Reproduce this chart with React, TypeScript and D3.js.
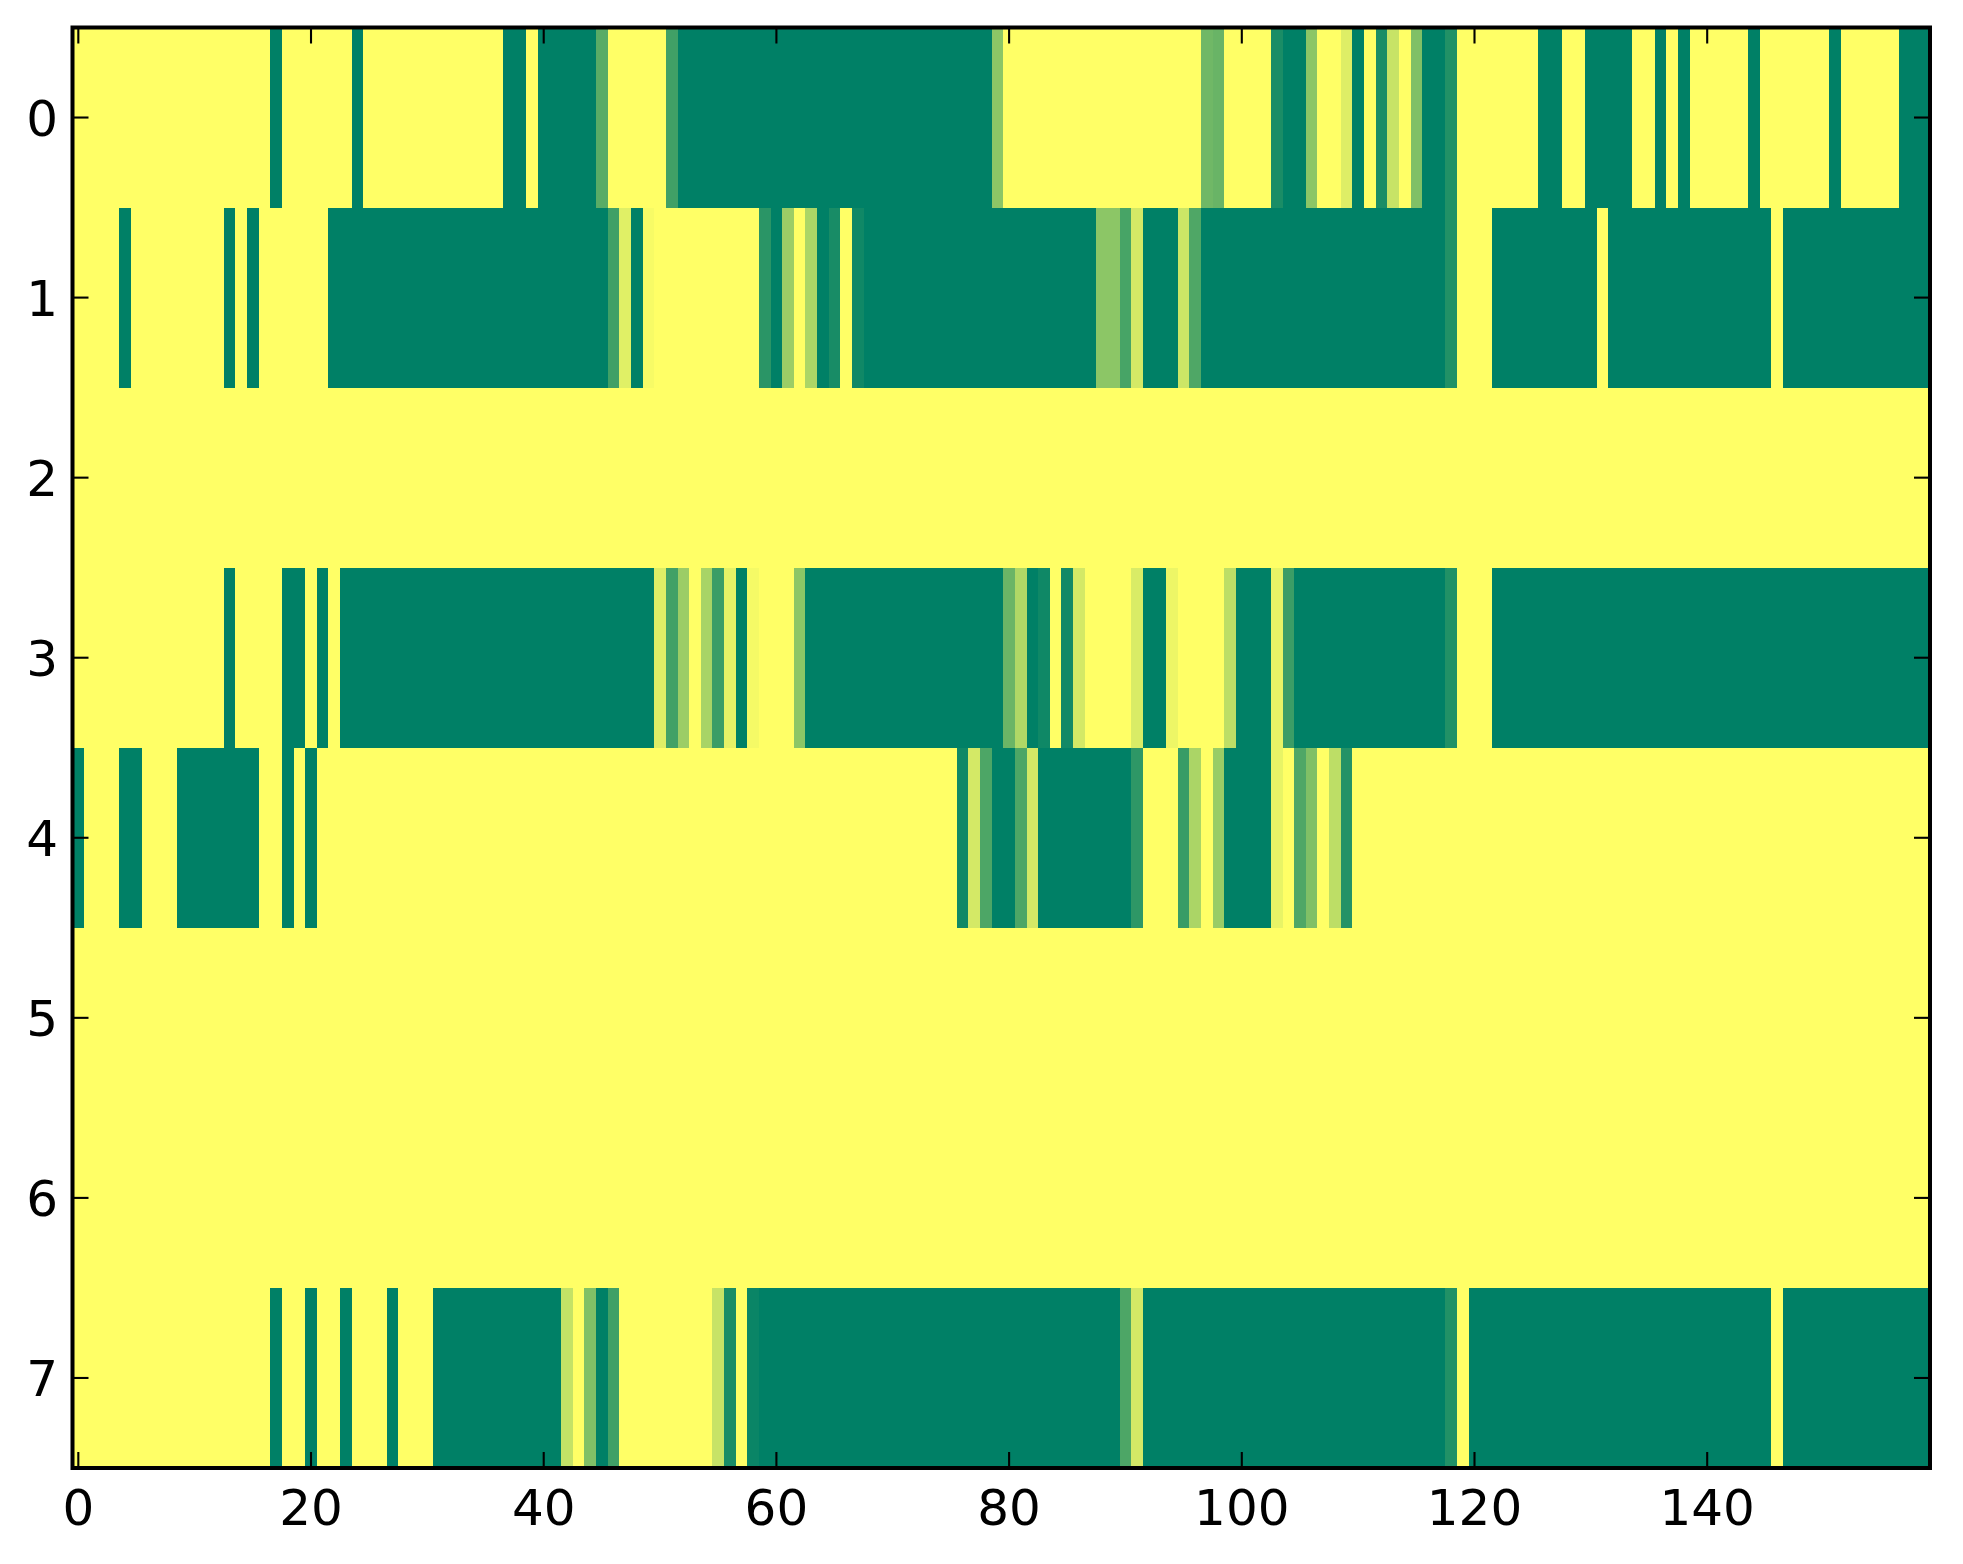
import * as d3 from 'd3'

// heatmap values, one array per row (0 = dark green, 1 = yellow)
const row0 = [
  1, 1, 1, 1, 1, 1, 1, 1, 1, 1, 1, 1, 1, 1, 1, 1, 1, 0, 1, 1,
  1, 1, 1, 1, 0, 1, 1, 1, 1, 1, 1, 1, 1, 1, 1, 1, 1, 0, 0, 1,
  0, 0, 0, 0, 0, .35, 1, 1, 1, 1, 1, .25, 0, 0, 0, 0, 0, 0, 0, 0,
  0, 0, 0, 0, 0, 0, 0, 0, 0, 0, 0, 0, 0, 0, 0, 0, 0, 0, 0, .55,
  1, 1, 1, 1, 1, 1, 1, 1, 1, 1, 1, 1, 1, 1, 1, 1, 1, .44, .41, 1,
  1, 1, 1, .1, 0, 0, .55, 1, 1, .87, 0, 1, .1, .78, 1, .5, 0, 0, .13, 1,
  1, 1, 1, 1, 1, 1, 0, 0, 1, 1, 0, 0, 0, 0, 1, 1, 0, 1, 0, 1,
  1, 1, 1, 1, 0, 1, 1, 1, 1, 1, 1, 0, 1, 1, 1, 1, 1, 0, 0, 0,
]
const row1 = [
  1, 1, 1, 1, 0, 1, 1, 1, 1, 1, 1, 1, 1, 0, 1, 0, 1, 1, 1, 1,
  1, 1, 0, 0, 0, 0, 0, 0, 0, 0, 0, 0, 0, 0, 0, 0, 0, 0, 0, 0,
  0, 0, 0, 0, 0, 0, .25, .88, 0, .97, 1, 1, 1, 1, 1, 1, 1, 1, 1, .165,
  0, .61, 1, .675, 0, .094, 1, .063, 0, 0, 0, 0, 0, 0, 0, 0, 0, 0, 0, 0,
  0, 0, 0, 0, 0, 0, 0, 0, .55, .55, .28, .83, 0, 0, 0, .8, .31, 0, 0, 0,
  0, 0, 0, 0, 0, 0, 0, 0, 0, 0, 0, 0, 0, 0, 0, 0, 0, 0, .13, 1,
  1, 1, 0, 0, 0, 0, 0, 0, 0, 0, 0, 1, 0, 0, 0, 0, 0, 0, 0, 0,
  0, 0, 0, 0, 0, 0, 1, 0, 0, 0, 0, 0, 0, 0, 0, 0, 0, 0, 0, 0,
]
const row2 = [
  1, 1, 1, 1, 1, 1, 1, 1, 1, 1, 1, 1, 1, 1, 1, 1, 1, 1, 1, 1,
  1, 1, 1, 1, 1, 1, 1, 1, 1, 1, 1, 1, 1, 1, 1, 1, 1, 1, 1, 1,
  1, 1, 1, 1, 1, 1, 1, 1, 1, 1, 1, 1, 1, 1, 1, 1, 1, 1, 1, 1,
  1, 1, 1, 1, 1, 1, 1, 1, 1, 1, 1, 1, 1, 1, 1, 1, 1, 1, 1, 1,
  1, 1, 1, 1, 1, 1, 1, 1, 1, 1, 1, 1, 1, 1, 1, 1, 1, 1, 1, 1,
  1, 1, 1, 1, 1, 1, 1, 1, 1, 1, 1, 1, 1, 1, 1, 1, 1, 1, 1, 1,
  1, 1, 1, 1, 1, 1, 1, 1, 1, 1, 1, 1, 1, 1, 1, 1, 1, 1, 1, 1,
  1, 1, 1, 1, 1, 1, 1, 1, 1, 1, 1, 1, 1, 1, 1, 1, 1, 1, 1, 1,
]
const row3 = [
  1, 1, 1, 1, 1, 1, 1, 1, 1, 1, 1, 1, 1, 0, 1, 1, 1, 1, 0, 0,
  1, 0, 1, 0, 0, 0, 0, 0, 0, 0, 0, 0, 0, 0, 0, 0, 0, 0, 0, 0,
  0, 0, 0, 0, 0, 0, 0, 0, 0, 0, .87, .26, .61, 1, .66, .23, .9, 0, .96, 1,
  1, 1, .55, 0, 0, 0, 0, 0, 0, 0, 0, 0, 0, 0, 0, 0, 0, 0, 0, 0,
  .42, .69, 0, .06, 1, .07, .83, 1, 1, 1, 1, .85, 0, 0, .93, 1, 1, 1, 1, .74,
  0, 0, 0, .91, .23, 0, 0, 0, 0, 0, 0, 0, 0, 0, 0, 0, 0, 0, .13, 1,
  1, 1, 0, 0, 0, 0, 0, 0, 0, 0, 0, 0, 0, 0, 0, 0, 0, 0, 0, 0,
  0, 0, 0, 0, 0, 0, 0, 0, 0, 0, 0, 0, 0, 0, 0, 0, 0, 0, 0, 0,
]
const row4 = [
  0, 1, 1, 1, 0, 0, 1, 1, 1, 0, 0, 0, 0, 0, 0, 0, 1, 1, 0, 1,
  0, 1, 1, 1, 1, 1, 1, 1, 1, 1, 1, 1, 1, 1, 1, 1, 1, 1, 1, 1,
  1, 1, 1, 1, 1, 1, 1, 1, 1, 1, 1, 1, 1, 1, 1, 1, 1, 1, 1, 1,
  1, 1, 1, 1, 1, 1, 1, 1, 1, 1, 1, 1, 1, 1, 1, 1, .06, .83, .3, 0,
  0, .3, .83, 0, 0, 0, 0, 0, 0, 0, 0, .18, 1, 1, 1, .22, .67, 1, .6, 0,
  0, 0, 0, .91, 1, .31, .5, 1, .74, .14, 1, 1, 1, 1, 1, 1, 1, 1, 1, 1,
  1, 1, 1, 1, 1, 1, 1, 1, 1, 1, 1, 1, 1, 1, 1, 1, 1, 1, 1, 1,
  1, 1, 1, 1, 1, 1, 1, 1, 1, 1, 1, 1, 1, 1, 1, 1, 1, 1, 1, 1,
]
const row5 = [
  1, 1, 1, 1, 1, 1, 1, 1, 1, 1, 1, 1, 1, 1, 1, 1, 1, 1, 1, 1,
  1, 1, 1, 1, 1, 1, 1, 1, 1, 1, 1, 1, 1, 1, 1, 1, 1, 1, 1, 1,
  1, 1, 1, 1, 1, 1, 1, 1, 1, 1, 1, 1, 1, 1, 1, 1, 1, 1, 1, 1,
  1, 1, 1, 1, 1, 1, 1, 1, 1, 1, 1, 1, 1, 1, 1, 1, 1, 1, 1, 1,
  1, 1, 1, 1, 1, 1, 1, 1, 1, 1, 1, 1, 1, 1, 1, 1, 1, 1, 1, 1,
  1, 1, 1, 1, 1, 1, 1, 1, 1, 1, 1, 1, 1, 1, 1, 1, 1, 1, 1, 1,
  1, 1, 1, 1, 1, 1, 1, 1, 1, 1, 1, 1, 1, 1, 1, 1, 1, 1, 1, 1,
  1, 1, 1, 1, 1, 1, 1, 1, 1, 1, 1, 1, 1, 1, 1, 1, 1, 1, 1, 1,
]
const row6 = [
  1, 1, 1, 1, 1, 1, 1, 1, 1, 1, 1, 1, 1, 1, 1, 1, 1, 1, 1, 1,
  1, 1, 1, 1, 1, 1, 1, 1, 1, 1, 1, 1, 1, 1, 1, 1, 1, 1, 1, 1,
  1, 1, 1, 1, 1, 1, 1, 1, 1, 1, 1, 1, 1, 1, 1, 1, 1, 1, 1, 1,
  1, 1, 1, 1, 1, 1, 1, 1, 1, 1, 1, 1, 1, 1, 1, 1, 1, 1, 1, 1,
  1, 1, 1, 1, 1, 1, 1, 1, 1, 1, 1, 1, 1, 1, 1, 1, 1, 1, 1, 1,
  1, 1, 1, 1, 1, 1, 1, 1, 1, 1, 1, 1, 1, 1, 1, 1, 1, 1, 1, 1,
  1, 1, 1, 1, 1, 1, 1, 1, 1, 1, 1, 1, 1, 1, 1, 1, 1, 1, 1, 1,
  1, 1, 1, 1, 1, 1, 1, 1, 1, 1, 1, 1, 1, 1, 1, 1, 1, 1, 1, 1,
]
const row7 = [
  1, 1, 1, 1, 1, 1, 1, 1, 1, 1, 1, 1, 1, 1, 1, 1, 1, 0, 1, 1,
  0, 1, 1, 0, 1, 1, 1, 0, 1, 1, 1, 0, 0, 0, 0, 0, 0, 0, 0, 0,
  0, 0, .77, 1, .5, 0, .25, 1, 1, 1, 1, 1, 1, 1, 1, .78, .1, 1, .04, 0,
  0, 0, 0, 0, 0, 0, 0, 0, 0, 0, 0, 0, 0, 0, 0, 0, 0, 0, 0, 0,
  0, 0, 0, 0, 0, 0, 0, 0, 0, 0, .3, .83, 0, 0, 0, 0, 0, 0, 0, 0,
  0, 0, 0, 0, 0, 0, 0, 0, 0, 0, 0, 0, 0, 0, 0, 0, 0, 0, .13, 1,
  0, 0, 0, 0, 0, 0, 0, 0, 0, 0, 0, 0, 0, 0, 0, 0, 0, 0, 0, 0,
  0, 0, 0, 0, 0, 0, 1, 0, 0, 0, 0, 0, 0, 0, 0, 0, 0, 0, 0, 0,
]
const rows = [row0, row1, row2, row3, row4, row5, row6, row7]

const xTicks = [0, 20, 40, 60, 80, 100, 120, 140]
const yTicks = [0, 1, 2, 3, 4, 5, 6, 7]

export default function App() {
  const width = 1963
  const height = 1564
  const left = 72.5
  const right = 1930
  const top = 27.5
  const bottom = 1468
  const tickLen = 16
  const fontSize = 50

  // the view stops a bit short of the last column's right edge
  const x = d3.scaleLinear([-0.5, 159.15], [left, right])
  const y = d3.scaleLinear([-0.5, rows.length - 0.5], [top, bottom])
  // matplotlib "summer": linear from (0, .5, .4) to (1, 1, .4)
  const color = d3.scaleSequential(d3.interpolateRgb('rgb(0,128,102)', 'rgb(255,255,102)')).domain([0, 1])

  return (
    <svg width={width} height={height} style={{position: 'absolute', left: 0, top: 0, background: '#fff'}}
         fontFamily="DejaVu Sans" fontSize={fontSize}>
      <defs>
        <clipPath id="plot-clip">
          <rect x={left} y={top} width={right - left} height={bottom - top}/>
        </clipPath>
      </defs>
      <g clipPath="url(#plot-clip)" shapeRendering="crispEdges">
        {rows.map((row, r) =>
          row.map((v, c) => (
            <rect key={r + '-' + c} x={x(c - 0.5)} y={y(r - 0.5)}
                  width={x(c + 0.5) - x(c - 0.5) + 0.6} height={y(r + 0.5) - y(r - 0.5) + 0.6}
                  fill={color(v)}/>
          ))
        )}
      </g>
      <rect x={left} y={top} width={right - left} height={bottom - top} fill="none" stroke="#000" strokeWidth={4}/>
      <g stroke="#000" strokeWidth={2.1}>
        {xTicks.map(t => (
          <g key={'xt' + t}>
            <line x1={x(t)} x2={x(t)} y1={bottom} y2={bottom - tickLen}/>
            <line x1={x(t)} x2={x(t)} y1={top} y2={top + tickLen}/>
          </g>
        ))}
        {yTicks.map(t => (
          <g key={'yt' + t}>
            <line x1={left} x2={left + tickLen} y1={y(t)} y2={y(t)}/>
            <line x1={right} x2={right - tickLen} y1={y(t)} y2={y(t)}/>
          </g>
        ))}
      </g>
      {xTicks.map(t => (
        <text key={'xl' + t} x={x(t)} y={1525} textAnchor="middle">{t}</text>
      ))}
      {yTicks.map(t => (
        <text key={'yl' + t} x={58} y={y(t) + 18} textAnchor="end">{t}</text>
      ))}
    </svg>
  )
}
